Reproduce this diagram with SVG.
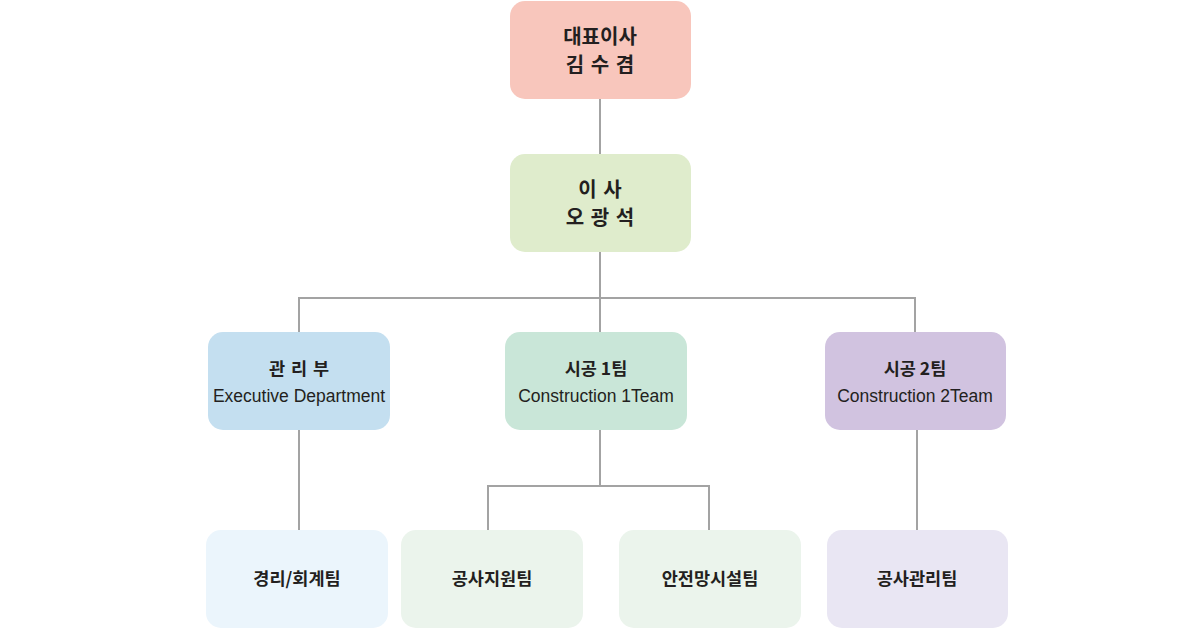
<svg xmlns="http://www.w3.org/2000/svg" width="1200" height="640" viewBox="0 0 1200 640">
<style>
.n{stroke:none}
.t{font-family:"Noto Sans CJK KR","Noto Sans",sans-serif;fill:#231f20;text-anchor:middle}
.b{font-weight:bold;font-size:17.5px}
.big{font-weight:bold;font-size:20px}
.e{font-family:"Liberation Sans","Noto Sans CJK KR",sans-serif;font-size:17.5px;fill:#231f20;text-anchor:middle}
.c{stroke:#a3a3a3;stroke-width:2;fill:none}
</style>
<rect width="1200" height="640" fill="#ffffff"/>
<g id="connectors">
<path class="c" d="M600 99V154"/>
<path class="c" d="M600 252V298"/>
<path class="c" d="M299 332V298H915V332"/>
<path class="c" d="M600 298V332"/>
<path class="c" d="M299 430V530"/>
<path class="c" d="M600 430V486"/>
<path class="c" d="M488 530V486H709V530"/>
<path class="c" d="M917 430V530"/>
</g>
<g id="ceo">
<rect class="n" x="510" y="1" width="181" height="98" rx="15" fill="#f8c6bc"/>
<text class="t big" x="600" y="44">대표이사</text>
<text class="t big" x="600" y="72" word-spacing="2">김 수 겸</text>
</g>
<g id="director">
<rect class="n" x="510" y="154" width="181" height="98" rx="15" fill="#dfeccc"/>
<text class="t big" x="600" y="197" word-spacing="2">이 사</text>
<text class="t big" x="600" y="225" word-spacing="2">오 광 석</text>
</g>
<g id="admin">
<rect class="n" x="208" y="332" width="182" height="98" rx="15" fill="#c4dff0"/>
<text class="t b" x="299" y="375" word-spacing="2">관 리 부</text>
<text class="e" x="299" y="402">Executive Department</text>
</g>
<g id="const1">
<rect class="n" x="505" y="332" width="182" height="98" rx="15" fill="#c9e6d8"/>
<text class="t b" x="596" y="375">시공 1팀</text>
<text class="e" x="596" y="402">Construction 1Team</text>
</g>
<g id="const2">
<rect class="n" x="825" y="332" width="181" height="98" rx="15" fill="#d1c3e0"/>
<text class="t b" x="915" y="375">시공 2팀</text>
<text class="e" x="915" y="402">Construction 2Team</text>
</g>
<g id="accounting">
<rect class="n" x="206" y="530" width="182" height="98" rx="15" fill="#ebf5fc"/>
<text class="t b" x="297" y="585">경리/회계팀</text>
</g>
<g id="support">
<rect class="n" x="401" y="530" width="182" height="98" rx="15" fill="#ebf4ec"/>
<text class="t b" x="492" y="585">공사지원팀</text>
</g>
<g id="safety">
<rect class="n" x="619" y="530" width="182" height="98" rx="15" fill="#ebf4ec"/>
<text class="t b" x="710" y="585">안전망시설팀</text>
</g>
<g id="management">
<rect class="n" x="827" y="530" width="181" height="98" rx="15" fill="#e9e6f3"/>
<text class="t b" x="917" y="585">공사관리팀</text>
</g>
</svg>
